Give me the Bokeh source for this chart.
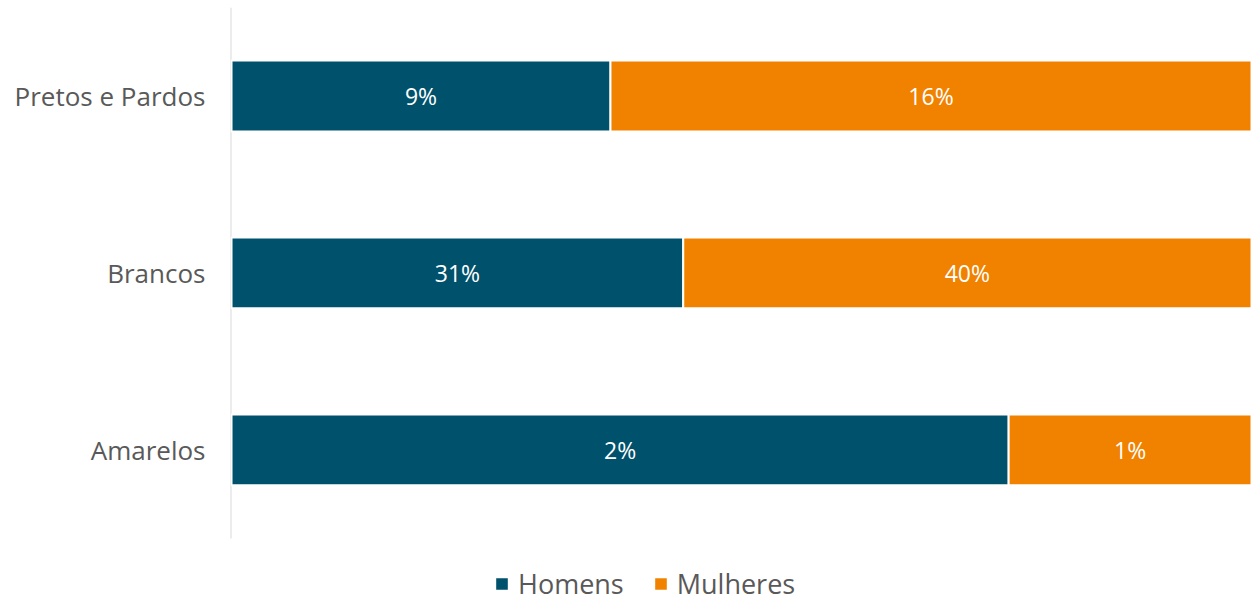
from bokeh.plotting import figure
from bokeh.models import ColumnDataSource, Range1d, Legend, LegendItem, FixedTicker
from bokeh.core.properties import value
from bokeh.embed import file_html
from bokeh.resources import INLINE

categories = ["Amarelos", "Brancos", "Pretos e Pardos"]
homens = [2.4, 31.4, 9.4]
mulheres = [0.75, 39.5, 15.9]
series = ["Homens", "Mulheres"]
colors = ["#00516C", "#F08200"]

tot = [h + m for h, m in zip(homens, mulheres)]
h_share = [h / t for h, t in zip(homens, tot)]
m_share = [m / t for m, t in zip(mulheres, tot)]
ypos = list(range(len(categories)))

src = ColumnDataSource(dict(y=ypos, Homens=h_share, Mulheres=m_share))

FONT = "Open Sans"

p = figure(width=1251, height=602, output_backend="svg", toolbar_location=None,
           y_range=Range1d(-0.862, 2.5), x_range=Range1d(-0.001, 1),
           min_border_left=230, min_border_right=0, min_border_top=7, min_border_bottom=0)

# axis line (category axis spans only the category bands)
p.segment(x0=[-0.001], y0=[-0.5], x1=[-0.001], y1=[len(categories) - 0.5],
          line_color="#d9d9d9", line_width=2)

rs = p.hbar_stack(series, y="y", height=0.40, color=colors, source=src,
                  line_color="white", line_width=2)

# labels
lab_x, lab_y, lab_t = [], [], []
for i in ypos:
    lab_x.append(h_share[i] / 2); lab_y.append(i); lab_t.append(f"{round(homens[i])}%")
    lab_x.append(h_share[i] + m_share[i] / 2); lab_y.append(i); lab_t.append(f"{round(mulheres[i])}%")
p.text(x=lab_x, y=lab_y, text=lab_t, text_align="center", text_baseline="middle",
       text_color="white", text_font_size="23px", text_font=value(FONT))

p.xaxis.visible = False
p.xgrid.visible = False
p.ygrid.visible = False
p.outline_line_color = None
p.yaxis.ticker = FixedTicker(ticks=ypos)
p.yaxis.major_label_overrides = {i: c for i, c in zip(ypos, categories)}
p.yaxis.axis_line_color = None
p.yaxis.major_tick_line_color = None
p.yaxis.minor_tick_line_color = None
p.yaxis.major_label_text_font_size = "26px"
p.yaxis.major_label_text_color = "#595959"
p.yaxis.major_label_text_font = FONT
p.yaxis.major_label_standoff = 19

legend = Legend(items=[LegendItem(label=s, renderers=[r]) for s, r in zip(series, rs)],
                orientation="horizontal", location=(263, 0),
                label_text_font_size="27px", label_text_color="#595959", label_text_font=FONT,
                glyph_width=17, glyph_height=17, spacing=28, border_line_color=None,
                background_fill_alpha=0, padding=0, margin=0, label_standoff=8)
p.add_layout(legend, "center")

open("out.html", "w").write(file_html(p, INLINE))
